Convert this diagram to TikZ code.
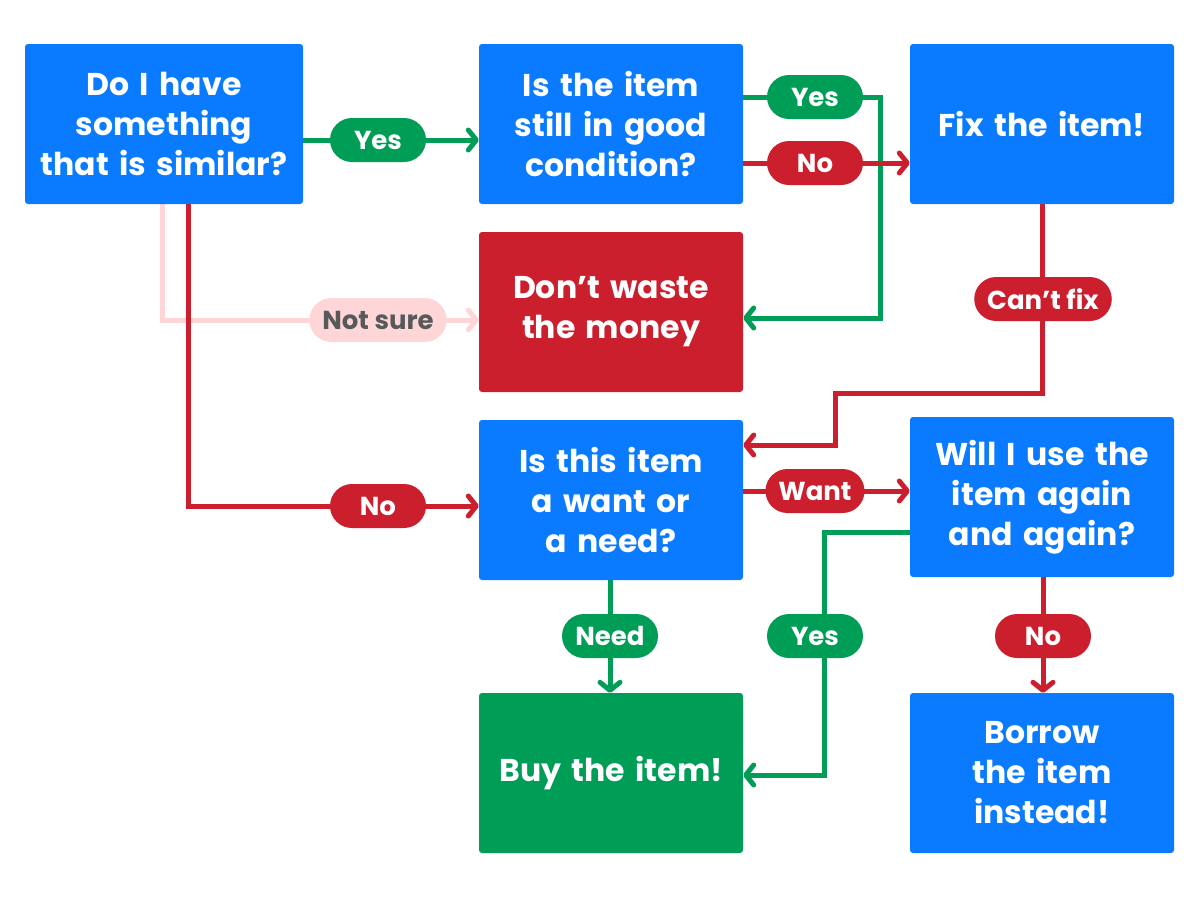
\documentclass[tikz,border=0pt]{standalone}
\usepackage{fontspec}
\setmainfont{Poppins}
\usetikzlibrary{arrows.meta,backgrounds}

\definecolor{qblue}{HTML}{0A7BFF}
\definecolor{qgreen}{HTML}{009D57}
\definecolor{qred}{HTML}{CC1F2E}
\definecolor{qpink}{HTML}{FFD6D8}
\definecolor{qgrey}{HTML}{58595B}

\tikzset{
  qbox/.style={rectangle, rounded corners=3pt, minimum width=264pt, minimum height=160pt,
    text width=262pt, align=center, inner sep=0pt, text=white,
    font=\fontsize{31.5}{40}\selectfont\bfseries},
  qlabel/.style={rectangle, rounded corners=22pt, minimum width=96pt, minimum height=44pt,
    inner xsep=13pt, inner ysep=0pt, text=white, font=\fontsize{26}{28}\selectfont\bfseries},
  link/.style={line width=5pt, -{Straight Barb[round,length=8pt,width=20pt]}},
}

\begin{document}
\begin{tikzpicture}[x=1pt,y=-1pt]
\useasboundingbox (0,0) rectangle (1200,900);

% boxes
\node[qbox,fill=qblue,minimum width=278pt] (similar) at (164,124) {Do I have\\something\\that is similar?};
\node[qbox,fill=qblue] (cond) at (611,124) {Is the item\\still in good\\condition?};
\node[qbox,fill=qblue] (fix) at (1042,124) {Fix the item!};
\node[qbox,fill=qred] (waste) at (611,312) {Don’t waste\\the money};
\node[qbox,fill=qblue] (want) at (611,500) {Is this item\\a want or\\a need?};
\node[qbox,fill=qblue] (again) at (1042,497) {Will I use the\\item again\\and again?};
\node[qbox,fill=qgreen] (buy) at (611,773) {Buy the item!};
\node[qbox,fill=qblue] (borrow) at (1042,773) {Borrow\\the item\\instead!};

% answers
\node[qlabel,fill=qgreen] (yes1) at (378,140) {Yes};
\node[qlabel,fill=qgreen] (yes2) at (815,97) {Yes};
\node[qlabel,fill=qred] (no1) at (815,163) {No};
\node[qlabel,fill=qpink,text=qgrey] (notsure) at (378,320) {Not sure};
\node[qlabel,fill=qred] (no2) at (378,506) {No};
\node[qlabel,fill=qred] (cantfix) at (1043,299) {Can’t fix};
\node[qlabel,fill=qred] (want1) at (815,491) {Want};
\node[qlabel,fill=qgreen] (need) at (610,636) {Need};
\node[qlabel,fill=qgreen] (yes3) at (815,636) {Yes};
\node[qlabel,fill=qred] (no3) at (1043,636) {No};

\coordinate (t1) at (880,318);
\coordinate (p1) at (162,320);
\coordinate (p2) at (188,506);
\coordinate (c1) at (1043,393);
\coordinate (c2) at (835,445);
\coordinate (g1) at (824,532);
\coordinate (g2) at (824,775);

\begin{scope}[on background layer]
\fill[white] (0,0) rectangle (1200,900);
\draw[link,qpink] (similar.south -| p1) -- (p1) -- (waste.west |- p1);
\draw[link,qred] (similar.south -| p2) -- (p2) -- (want.west |- p2);
\draw[link,qgreen] (similar.east |- yes1) -- (cond.west |- yes1);
\draw[link,qgreen] (cond.east |- yes2) -| (t1) -- (waste.east |- t1);
\draw[link,qred] (cond.east |- no1) -- (fix.west |- no1);
\draw[link,qred] (fix.south) -- (fix.south |- c1) -| (c2) -- (want.east |- c2);
\draw[link,qred] (want.east |- want1) -- (again.west |- want1);
\draw[link,qgreen] (want.south -| need) -- (buy.north -| need);
\draw[link,qgreen] (again.west |- g1) -- (g1) -- (g2) -- (buy.east |- g2);
\draw[link,qred] (again.south -| no3) -- (borrow.north -| no3);
\end{scope}
\end{tikzpicture}
\end{document}
